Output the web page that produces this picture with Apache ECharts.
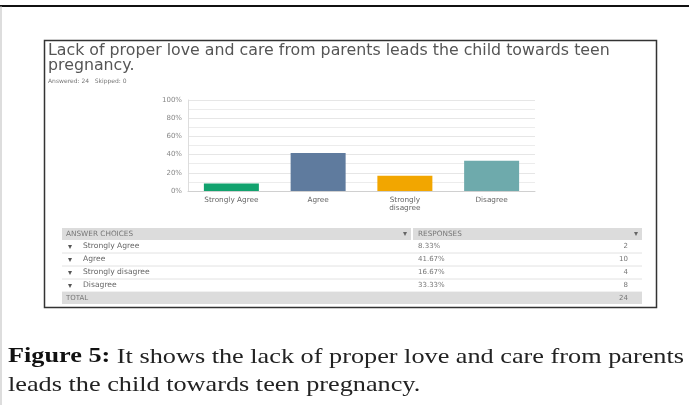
<!DOCTYPE html>
<html>
<head>
<meta charset="utf-8">
<script src="https://cdn.jsdelivr.net/npm/echarts@6/dist/echarts.min.js"></script>
<style>
  html, body { margin: 0; padding: 0; background: #ffffff; }
  #chart { width: 689px; height: 405px; }
</style>
</head>
<body>
<div id="chart"></div>
<script>
// Survey answers and their shares
const categories = ['Strongly Agree', 'Agree', 'Strongly\ndisagree', 'Disagree'];
const choiceNames = ['Strongly Agree', 'Agree', 'Strongly disagree', 'Disagree'];
const shares = [8.33, 41.67, 16.67, 33.33];
const counts = [2, 10, 4, 8];
const totalCount = 24;
const skipped = 0;
const barColors = ['#12a26e', '#5f7b9e', '#f2a600', '#6eaaac'];
const yTicks = [0, 20, 40, 60, 80, 100];

const chart = echarts.init(document.getElementById('chart'), null, { renderer: 'canvas' });

const sans = 'DejaVu Sans, Verdana, sans-serif';
const serif = 'Liberation Serif, Times New Roman, serif';

// Table of answer choices below the bar chart
const tableLeft = 62, tableRight = 642, colSplit = 411;
const headerTop = 228, headerH = 12, rowH = 13;
const table = [];
table.push({ type: 'rect', shape: { x: tableLeft, y: headerTop, width: colSplit - tableLeft, height: headerH }, style: { fill: '#dcdcdc' } });
table.push({ type: 'rect', shape: { x: colSplit + 2, y: headerTop, width: tableRight - colSplit - 2, height: headerH }, style: { fill: '#dcdcdc' } });
table.push({ type: 'text', x: tableLeft + 4, y: headerTop + headerH / 2, style: { text: 'ANSWER CHOICES', fontSize: 7.3, fontFamily: sans, fill: '#777', verticalAlign: 'middle' } });
table.push({ type: 'text', x: colSplit - 4, y: headerTop + headerH / 2, style: { text: '▾', fontSize: 8, fontFamily: sans, fill: '#666', align: 'right', verticalAlign: 'middle' } });
table.push({ type: 'text', x: colSplit + 7, y: headerTop + headerH / 2, style: { text: 'RESPONSES', fontSize: 7.3, fontFamily: sans, fill: '#777', verticalAlign: 'middle' } });
table.push({ type: 'text', x: tableRight - 4, y: headerTop + headerH / 2, style: { text: '▾', fontSize: 8, fontFamily: sans, fill: '#666', align: 'right', verticalAlign: 'middle' } });
choiceNames.forEach((name, i) => {
  const y0 = headerTop + headerH + i * rowH;
  const cy = y0 + rowH / 2;
  table.push({ type: 'text', x: tableLeft + 6, y: cy, style: { text: '▾', fontSize: 8, fontFamily: sans, fill: '#555', verticalAlign: 'middle' } });
  table.push({ type: 'text', x: tableLeft + 21, y: cy, style: { text: name, fontSize: 7.6, fontFamily: sans, fill: '#666', verticalAlign: 'middle' } });
  table.push({ type: 'text', x: colSplit + 7, y: cy, style: { text: shares[i].toFixed(2) + '%', fontSize: 7, fontFamily: sans, fill: '#777', verticalAlign: 'middle' } });
  table.push({ type: 'text', x: tableRight - 14, y: cy, style: { text: String(counts[i]), fontSize: 7, fontFamily: sans, fill: '#777', align: 'right', verticalAlign: 'middle' } });
  table.push({ type: 'line', shape: { x1: tableLeft, y1: y0 + rowH, x2: tableRight, y2: y0 + rowH }, style: { stroke: '#e2e2e2', lineWidth: 1 } });
});
const totalTop = headerTop + headerH + choiceNames.length * rowH;
table.push({ type: 'rect', shape: { x: tableLeft, y: totalTop, width: tableRight - tableLeft, height: 12 }, style: { fill: '#dcdcdc' } });
table.push({ type: 'text', x: tableLeft + 4, y: totalTop + 6, style: { text: 'TOTAL', fontSize: 7, fontFamily: sans, fill: '#777', verticalAlign: 'middle' } });
table.push({ type: 'text', x: tableRight - 14, y: totalTop + 6, style: { text: String(totalCount), fontSize: 7, fontFamily: sans, fill: '#777', align: 'right', verticalAlign: 'middle' } });

const option = {
  backgroundColor: '#ffffff',
  animation: false,
  grid: { left: 188, right: 154, top: 100, bottom: 214, containLabel: false },
  xAxis: {
    type: 'category',
    data: categories,
    axisLine: { show: true, lineStyle: { color: '#d0d0d0', width: 1 } },
    axisTick: { show: false },
    axisLabel: { fontSize: 7.3, fontFamily: sans, color: '#666', margin: 5, lineHeight: 8 }
  },
  yAxis: {
    type: 'value',
    min: 0,
    max: 100,
    interval: 20,
    axisLine: { show: true, lineStyle: { color: '#dddddd', width: 1 } },
    axisTick: { show: false },
    axisLabel: { fontSize: 7, fontFamily: sans, color: '#888', margin: 6, formatter: v => yTicks.includes(v) ? v + '%' : '' },
    splitLine: { show: true, lineStyle: { color: '#e6e6e6', width: 1 } },
    minorTick: { show: false, splitNumber: 2 },
    minorSplitLine: { show: true, lineStyle: { color: '#ececec', width: 1 } }
  },
  series: [{
    type: 'bar',
    barWidth: 55,
    data: shares.map((v, i) => ({ value: v, itemStyle: { color: barColors[i] } })),
    label: { show: false }
  }],
  graphic: [
    // outer page frame
    { type: 'line', shape: { x1: 0, y1: 6, x2: 689, y2: 6 }, style: { stroke: '#111', lineWidth: 2 } },
    { type: 'line', shape: { x1: 1, y1: 6, x2: 1, y2: 405 }, style: { stroke: '#bbb', lineWidth: 1 } },
    // inner chart panel
    { type: 'rect', shape: { x: 44.5, y: 40.5, width: 612, height: 267 }, style: { fill: 'none', stroke: '#333', lineWidth: 1.5 } },
    { type: 'text', x: 48, y: 43, style: { text: 'Lack of proper love and care from parents leads the child towards teen\npregnancy.', fontSize: 15.8, lineHeight: 15, fontFamily: sans, fill: '#555' } },
    { type: 'text', x: 48, y: 78, style: { text: 'Answered: ' + totalCount + '   Skipped: ' + skipped, fontSize: 6, fontFamily: sans, fill: '#777' } },
    ...table,
    // figure caption
    {
      type: 'text', x: 8, y: 343, scaleX: 1.25,
      style: {
        text: '{b|Figure 5:} It shows the lack of proper love and care from parents\nleads the child towards teen pregnancy.',
        fontSize: 21, lineHeight: 28, fontFamily: serif, fill: '#222',
        rich: { b: { fontSize: 21, fontWeight: 'bold', fontFamily: serif, fill: '#111' } }
      }
    }
  ]
};
chart.setOption(option);
</script>
</body>
</html>
